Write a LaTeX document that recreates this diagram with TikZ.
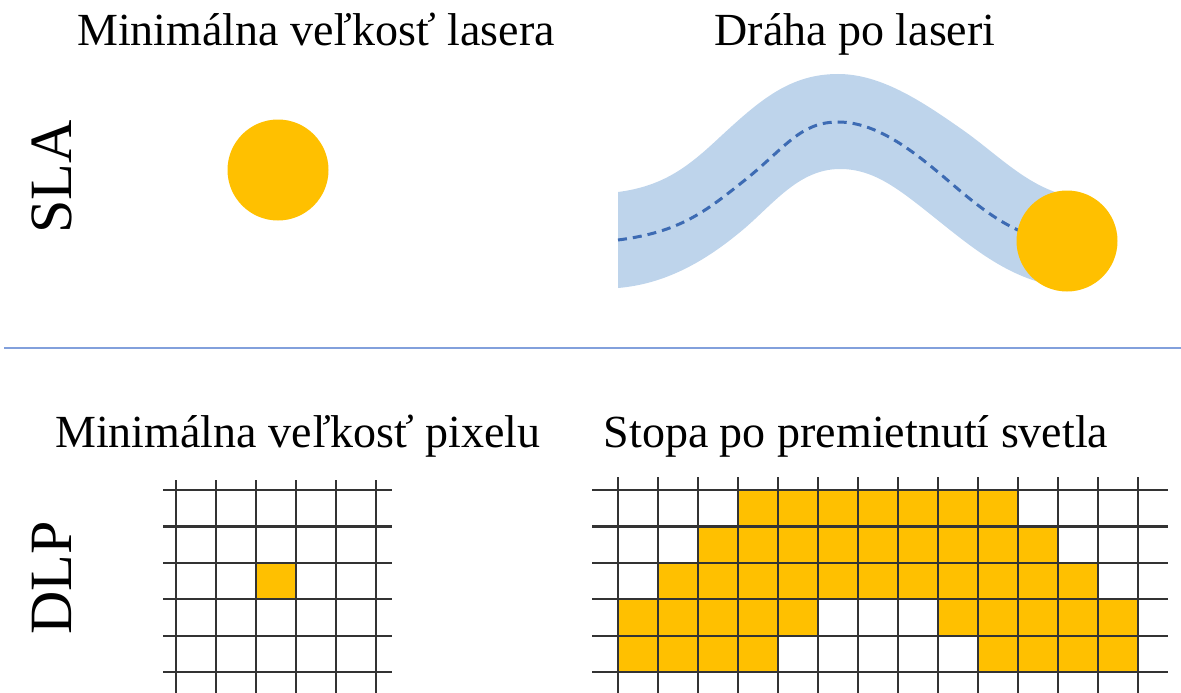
\documentclass[tikz,border=0pt]{standalone}
\usepackage{fontspec}
\setmainfont{Liberation Serif}
\definecolor{spotc}{HTML}{FFC000}
\definecolor{bandc}{HTML}{BED4EB}
\definecolor{dashc}{HTML}{3D6BB3}
\definecolor{gridc}{HTML}{333333}
\definecolor{sepc}{HTML}{82A0DC}
\def\laserpath{(618,240) .. controls (680,232) and (705,212) .. (745,180)
  .. controls (785,148) and (800,122) .. (838,122)
  .. controls (876,122) and (912,150) .. (945,178)
  .. controls (978,206) and (1010,235) .. (1060,243)}
\begin{document}
\begin{tikzpicture}[x=1pt,y=-1pt,
  title/.style={font=\fontsize{46}{50}\selectfont, anchor=base, inner sep=0},
  side/.style={font=\fontsize{60}{64}\selectfont, anchor=base, inner sep=0, rotate=90},
  spot/.style={circle, fill=spotc, minimum size=101pt, inner sep=0},
  gridline/.style={draw=gridc, line width=2.2pt},
  cell/.style={fill=spotc},
  ]
\useasboundingbox (0,0) rectangle (1181,693);
% titles
\node[title] (t1) at (316,46) {Minimálna veľkosť lasera};
\node[title] (t2) at (855,46) {Dráha po laseri};
\node[title] (t3) at (298,447) {Minimálna veľkosť pixelu};
\node[title] (t4) at (856,447) {Stopa po premietnutí svetla};
\node[side] (sla) at (71,177) {SLA};
\node[side] (dlp) at (71,578) {DLP};
% separator
\coordinate (sepL) at (4,348);
\coordinate (sepR) at (1181,348);
\draw[sepc, line width=2pt] (sepL) -- (sepR);
% SLA spot
\node[spot] (spot1) at (278,170) {};
% laser path band
\fill[bandc] (618,192) .. controls (665,186) and (690,165) .. (720,137)
  .. controls (760,100) and (790,74) .. (838,74)
  .. controls (880,74) and (920,100) .. (960,128)
  .. controls (995,152) and (1025,185) .. (1065,195)
  -- (1056,286) .. controls (1010,278) and (975,250) .. (940,222)
  .. controls (900,190) and (875,169) .. (840,169)
  .. controls (800,169) and (775,202) .. (745,228)
  .. controls (705,262) and (665,284) .. (618,288) -- cycle;
\draw[dashc, line width=3pt, dash pattern=on 9pt off 6pt] \laserpath;
\node[spot] (spot2) at (1067,241) {};
% DLP left grid
\fill[cell] (256,562.8) rectangle ++(40,36.4);
\foreach \i in {0,...,5} \draw[gridline] ({176+40*\i},480) -- ({176+40*\i},693);
\foreach \y in {490,526.4,562.8,599.2,635.6,672} \draw[gridline] (163,\y) -- (392,\y);
% DLP right grid
\foreach \r/\a/\b in {0/3/9,1/2/10,2/1/11,3/0/4,3/8/12,4/0/3,4/9/12}
  \foreach \c in {\a,...,\b}
    \fill[cell] ({618+40*\c},{490+36.4*\r}) rectangle ++(40,36.4);
\foreach \i in {0,...,13} \draw[gridline] ({618+40*\i},477) -- ({618+40*\i},693);
\foreach \y in {490,526.4,562.8,599.2,635.6,672} \draw[gridline] (592,\y) -- (1168,\y);
\end{tikzpicture}
\end{document}
